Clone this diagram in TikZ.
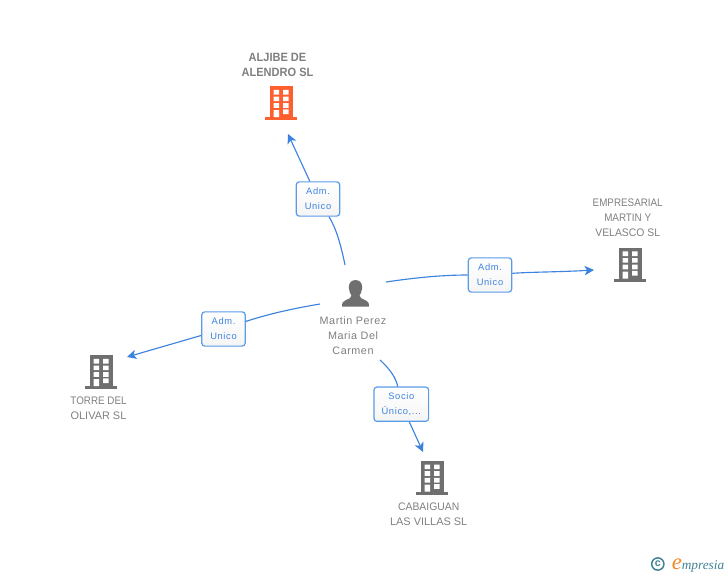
\documentclass[tikz,border=0pt]{standalone}
\usepackage{fontspec}
\setmainfont{Liberation Sans}
\newfontfamily\capsfont[FakeStretch=0.9]{Liberation Sans}
\newfontfamily\capsmid[FakeStretch=0.95]{Liberation Sans}
\newfontfamily\capswide{Liberation Sans}
\newfontfamily\capsbold[FakeStretch=0.92]{Liberation Sans}
\newfontfamily\spacedfont[LetterSpace=5]{Liberation Sans}
\newfontfamily\boxfont[LetterSpace=7]{Liberation Sans}
\newfontfamily\logofont{Liberation Serif}
\usetikzlibrary{arrows.meta}
\definecolor{linkblue}{HTML}{3C83E0}
\definecolor{boxblue}{HTML}{5A9BE8}
\definecolor{txtgrey}{HTML}{7F7F7F}
\definecolor{bldgrey}{HTML}{6F6F6F}
\definecolor{bldorange}{HTML}{FF5F2E}
\definecolor{logoteal}{HTML}{3F8296}
\definecolor{logoorange}{HTML}{F08A24}
\tikzset{
  x=0.75pt,y=-0.75pt,
  conn/.style={draw=linkblue,line width=0.85pt},
  connarrow/.style={conn,-{Stealth[length=7pt,width=7pt,inset=1.8pt]}},
  relbox/.style={draw=boxblue,line width=0.9pt,rounded corners=2.2pt,top color=white,bottom color=white!96!black,
    minimum height=25.7pt,inner sep=0pt,align=center,text=linkblue,
    font=\boxfont\fontsize{7pt}{11.25pt}\selectfont},
  complabel/.style={inner sep=0pt,align=center,text=txtgrey,font=\capsfont\fontsize{8.2pt}{11.25pt}\selectfont},
  complabelbold/.style={inner sep=0pt,align=center,text=txtgrey,font=\capsbold\bfseries\fontsize{9pt}{11.25pt}\selectfont},
  personlabel/.style={inner sep=0pt,align=center,text=txtgrey,font=\spacedfont\fontsize{8.1pt}{11.25pt}\selectfont},
  pics/bldg/.style={code={
    \fill[#1] (-11,0) rectangle (11.5,31);
    \fill[#1] (-16,31) rectangle (16,34);
    \fill[white] (-7.3,3.8) rectangle (-1.8,8.5) (2.2,3.8) rectangle (7.7,8.5)
      (-7.3,10.5) rectangle (-1.8,15.2) (2.2,10.5) rectangle (7.7,15.2)
      (-7.3,17.1) rectangle (-1.8,21.9) (2.2,17.1) rectangle (7.7,21.9)
      (-7.3,24) rectangle (-1.8,31) (2.2,23.3) rectangle (7.7,28.2);
  }},
}
\begin{document}
\begin{tikzpicture}
\useasboundingbox (0,0) rectangle (728,575);
% buildings
\pic (bAljibe) at (281,86) {bldg=bldorange};
\pic (bEmpresarial) at (630,247.5) {bldg=bldgrey};
\pic (bTorre) at (101,355) {bldg=bldgrey};
\pic (bCabaiguan) at (432,460.7) {bldg=bldgrey};
% person
\fill[bldgrey] (355.5,280) .. controls (349.5,280) and (348.5,285) .. (349,289)
  .. controls (349.3,292) and (350.5,294) .. (351.5,295.5)
  .. controls (351.5,298) and (349,298.8) .. (346,300)
  .. controls (343,301.2) and (342,302.5) .. (342,306.7)
  -- (369,306.7)
  .. controls (369,302.5) and (368,301.2) .. (365,300)
  .. controls (362,298.8) and (359.5,298) .. (359.5,295.5)
  .. controls (360.5,294) and (361.7,292) .. (362,289)
  .. controls (362.5,285) and (361.5,280) .. cycle;
% labels
\node[complabelbold] (tAljibe) at (277.5,64.5) {ALJIBE DE\\ALENDRO SL};
\node[complabel] (tEmpresarial) at (627.7,218) {EMPRESARIAL\\MARTIN Y\\{\capsmid VELASCO SL}};
\node[complabel] (tTorre) at (98.5,408.5) {TORRE DEL\\{\capswide OLIVAR SL}};
\node[complabel] (tCabaiguan) at (428.7,514.5) {{\capsmid CABAIGUAN}\\{\capswide LAS VILLAS SL}};
\node[personlabel] (tPerson) at (353,336) {Martin Perez\\Maria Del\\Carmen};
% relation boxes
\node[relbox,minimum width=32.5pt] (box1) at (318,199) {Adm.\\Unico};
\node[relbox,minimum width=32.5pt] (box2) at (490,275) {Adm.\\Unico};
\node[relbox,minimum width=32.5pt] (box3) at (223.5,329) {Adm.\\Unico};
\node[relbox,minimum width=41pt] (box4) at (401.3,404.2) {Socio\\Único,...};
% free ends
\coordinate (s1) at (345,265);
\coordinate (e1) at (288,134);
\coordinate (s2) at (386,282);
\coordinate (e2) at (594,270);
\coordinate (s3) at (320,304);
\coordinate (e3) at (127,357);
\coordinate (s4) at (380,360);
\coordinate (e4) at (423,452);
% connectors
\draw[conn] (s1) .. controls (341,245) and (336,228) .. (box1);
\draw[connarrow] (box1) -- (e1);
\draw[conn] (s2) .. controls (420,277) and (445,275) .. (box2);
\draw[connarrow] (box2) .. controls (530,272) and (560,272) .. (e2);
\draw[conn] (s3) .. controls (290,309) and (265,315) .. (box3);
\draw[connarrow] (box3) -- (e3);
\draw[conn] (s4) .. controls (390,369) and (396,378) .. (box4);
\draw[connarrow] (box4) -- (e4);
% logo
\node[circle,draw=logoteal,line width=1.1pt,inner sep=0pt,minimum size=9.2pt,text=logoteal,
  font=\bfseries\fontsize{8pt}{8pt}\selectfont] (logoC) at (657.8,564) {c};
\node[inner sep=0pt,anchor=base west,text=logoteal,font=\logofont\itshape\fontsize{10pt}{10pt}\selectfont] (logoT) at (671.5,569)
  {{\color{logoorange}\fontsize{17pt}{17pt}\selectfont e}mpresia};
\end{tikzpicture}
\end{document}
